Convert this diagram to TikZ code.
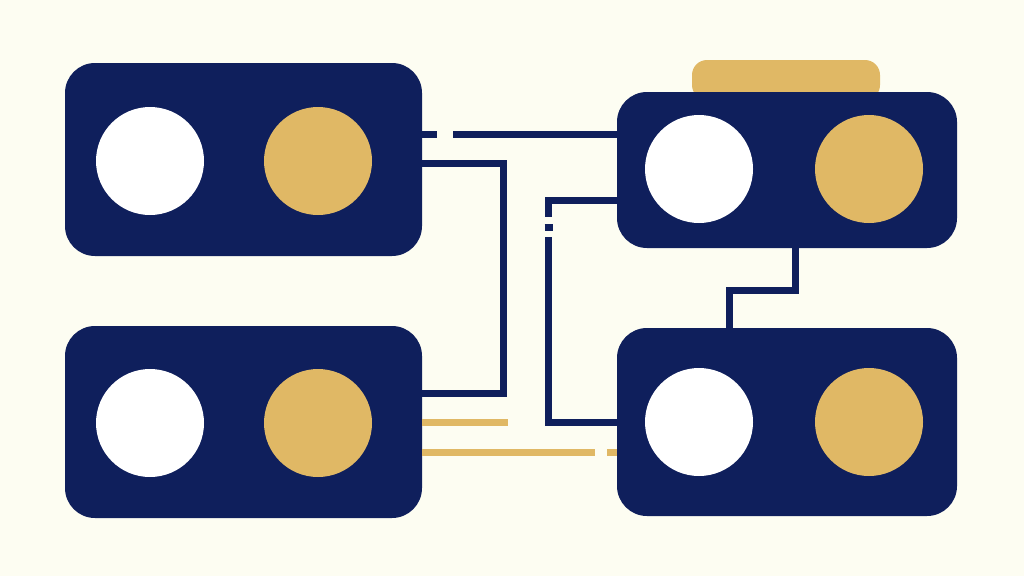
\documentclass[tikz,border=0pt]{standalone}
\usepackage{tikz}

\definecolor{navy}{HTML}{0F1F5C}
\definecolor{gold}{HTML}{E0B865}
\definecolor{cream}{HTML}{FDFDF2}

\tikzset{
  panel/.style={draw=none, fill=navy, rounded corners=30pt, inner sep=0pt},
  lamp/.style={circle, draw=none, inner sep=0pt, minimum size=108pt},
  wire/.style={draw=navy, line width=7pt},
  goldwire/.style={draw=gold, line width=7pt}
}

\begin{document}
\begin{tikzpicture}[x=1pt, y=-1pt]
\fill[cream] (0,0) rectangle (1024,576);
\useasboundingbox (0,0) rectangle (1024,576);

\node[fill=gold, rounded corners=15pt, minimum width=188pt, minimum height=40pt, inner sep=0pt] (tab) at (786,80) {};

\node[panel, minimum width=357pt, minimum height=193pt] (tl) at (243.5,159.5) {};
\node[panel, minimum width=357pt, minimum height=192pt] (bl) at (243.5,422) {};
\node[panel, minimum width=340pt, minimum height=156pt] (tr) at (787,170) {};
\node[panel, minimum width=340pt, minimum height=188pt] (br) at (787,422) {};

\node[lamp, fill=white] (tlw) at (150,161) {};
\node[lamp, fill=gold] (tlg) at (318,161) {};
\node[lamp, fill=white] (blw) at (150,423) {};
\node[lamp, fill=gold] (blg) at (318,423) {};
\node[lamp, fill=white] (trw) at (699,169) {};
\node[lamp, fill=gold] (trg) at (869,169) {};
\node[lamp, fill=white] (brw) at (699,422) {};
\node[lamp, fill=gold] (brg) at (869,422) {};

\coordinate (gapa) at (437,134);
\coordinate (gapb) at (453,134);
\draw[wire] (tl.east |- gapa) -- (gapa);
\draw[wire] (gapb) -- (tr.west |- gapb);

\coordinate (leftbus) at (503,163);
\draw[wire] (tl.east |- leftbus) -- (leftbus) -- (leftbus |- 0,393) -- (bl.east |- 0,393);

\coordinate (rightbus) at (548,200);
\draw[wire] (tr.west |- rightbus) -- (rightbus) -- (548,217);
\draw[wire] (544.5,227) -- (553,227);
\draw[wire] (548,237) -- (548,422) -- (br.west |- 0,422);

\coordinate (drop) at (795,290);
\draw[wire] (tr.south -| drop) -- (drop) -- (729,290) -- (br.north -| 729,0);

\coordinate (gtop) at (508,422);
\coordinate (gbot) at (595,452);
\coordinate (gend) at (607,452);
\draw[goldwire] (bl.east |- gtop) -- (gtop);
\draw[goldwire] (bl.east |- gbot) -- (gbot);
\draw[goldwire] (gend) -- (br.west |- gend);
\end{tikzpicture}
\end{document}
